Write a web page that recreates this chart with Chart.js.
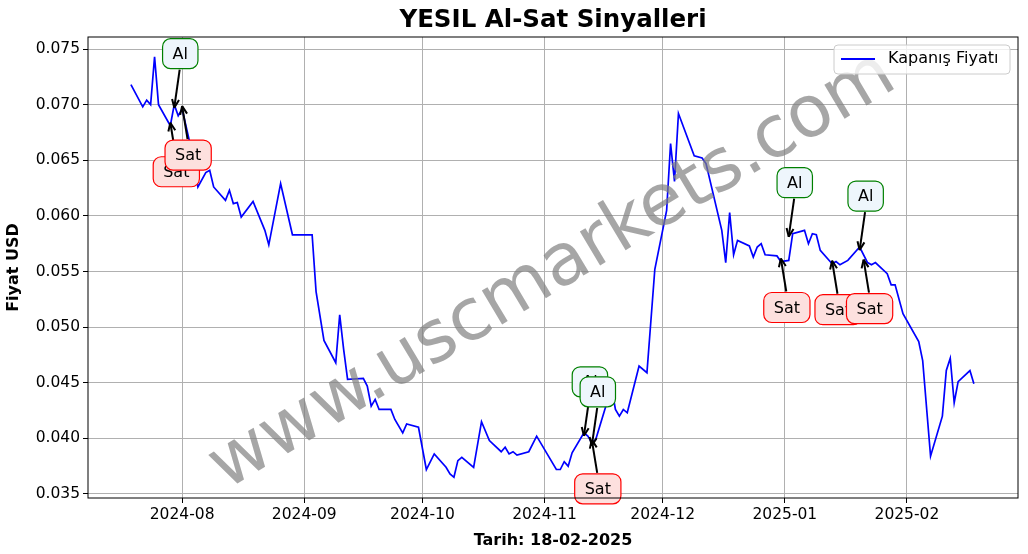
<!DOCTYPE html>
<html><head><meta charset="utf-8">
<script src="https://cdn.jsdelivr.net/npm/chart.js@4"></script>
<style>html,body{margin:0;padding:0;background:#fff}#w{width:1028px;height:554px}</style>
</head><body><div id="w"><canvas id="c"></canvas></div>
<script>
// days since 2024-08-01
const days = [-13,-10,-9,-8,-7,-6,-3,-2,-1,0,2,4,6,7,8,11,12,13,14,15,18,21,22,25,28,33,34,36,39,40,41,42,46,47,48,49,50,53,54,56,57,60,62,64,67,68,69,70,71,74,76,78,81,82,83,84,85,88,90,93,95,96,97,98,99,102,103,104,105,108,109,110,111,112,113,116,118,120,123,124,125,126,130,132,133,137,138,139,140,141,144,145,146,147,148,151,152,154,155,158,159,160,161,162,165,166,167,169,172,174,175,176,179,180,181,183,187,188,190,193,194,195,196,197,200,201];
const prices = [0.0718,0.0698,0.0704,0.0700,0.0743,0.0700,0.0681,0.0700,0.0690,0.0696,0.0665,0.0626,0.0639,0.0641,0.0626,0.0614,0.0623,0.0611,0.0612,0.0599,0.0613,0.0587,0.0574,0.0629,0.0583,0.0583,0.0532,0.0488,0.0468,0.0511,0.0480,0.0453,0.0454,0.0447,0.0429,0.0435,0.0426,0.0426,0.0417,0.0405,0.0413,0.0410,0.0372,0.0386,0.0374,0.0368,0.0365,0.0380,0.0383,0.0374,0.0415,0.0398,0.0388,0.0392,0.0386,0.0388,0.0385,0.0388,0.0402,0.0384,0.0372,0.0372,0.0379,0.0375,0.0387,0.0405,0.0402,0.0396,0.0399,0.0434,0.0446,0.0426,0.0420,0.0426,0.0423,0.0465,0.0459,0.0552,0.0605,0.0665,0.0631,0.0692,0.0654,0.0652,0.0647,0.0587,0.0558,0.0603,0.0565,0.0578,0.0573,0.0563,0.0572,0.0575,0.0565,0.0564,0.0559,0.0560,0.0584,0.0587,0.0575,0.0584,0.0583,0.0569,0.0557,0.0559,0.0556,0.0560,0.0572,0.0558,0.0556,0.0558,0.0548,0.0538,0.0538,0.0512,0.0487,0.0470,0.0384,0.0420,0.0461,0.0472,0.0432,0.0451,0.0461,0.0449];
const tickDays = [0,31,61,92,122,153,184];
const tickLabels = ['2024-08','2024-09','2024-10','2024-11','2024-12','2025-01','2025-02'];
const signalType = ['Sat','Al','Sat','Al','Al','Sat','Sat','Al','Sat','Al','Sat'];
const signalDay = [-3,-2,0,102,104,104,152,154,165,172,173];
const signalPrice = [0.0681,0.0700,0.0696,0.0405,0.0396,0.0396,0.0559,0.0584,0.0557,0.0572,0.0558];

const FONT = '"DejaVu Sans", sans-serif';
const extra = {
  id:'extra',
  afterDatasetsDraw(ch){
    const c=ch.ctx, xs=ch.scales.x, ys=ch.scales.y;
    c.save();
    c.font='16px '+FONT;
    signalType.forEach((t,i)=>{
      const tx=xs.getPixelForValue(signalDay[i]), ty=ys.getPixelForValue(signalPrice[i]);
      const al=t==='Al';
      const lx=tx+6, ly=al?ty-51:ty+46;
      const sy=al?ly+16:ly-16, ey=al?ty+3:ty-3;
      c.strokeStyle='#000';c.fillStyle='#000';c.lineWidth=2;
      c.beginPath();c.moveTo(lx-(lx-tx)*0.1,sy);c.lineTo(tx,ey);c.stroke();
      const ang=Math.atan2(ey-sy,tx-lx);
      c.beginPath();c.moveTo(tx,ey);
      c.lineTo(tx-9*Math.cos(ang-0.4),ey-9*Math.sin(ang-0.4));
      c.moveTo(tx,ey);
      c.lineTo(tx-9*Math.cos(ang+0.4),ey-9*Math.sin(ang+0.4));c.stroke();
      const w=c.measureText(t).width+20,h=30;
      c.beginPath();c.roundRect(lx-w/2,ly-h/2,w,h,8);
      c.fillStyle=al?'#eef6fc':'#fde0de';c.fill();
      c.strokeStyle=al?'green':'red';c.lineWidth=1.2;c.stroke();
      c.fillStyle='#000';c.textAlign='center';c.textBaseline='middle';
      c.fillText(t,lx,ly+1);
    });
    c.restore();
  },
  afterDraw(ch){
    const c=ch.ctx,a=ch.chartArea;
    c.save();
    c.translate(553,272);c.rotate(-31*Math.PI/180);
    c.font='72px '+FONT;c.fillStyle='rgba(128,128,128,0.7)';
    c.textAlign='center';c.textBaseline='middle';
    c.fillText('www.uscmarkets.com',0,0);
    c.restore();
    c.save();
    c.strokeStyle='#000';c.lineWidth=1;c.strokeRect(a.left,a.top,a.right-a.left,a.bottom-a.top);
    c.font='bold 24.5px '+FONT;c.fillStyle='#000';c.textAlign='center';c.textBaseline='middle';
    c.fillText('YESIL Al-Sat Sinyalleri',553,21);
    c.beginPath();c.roundRect(834,45,176,29,4);c.fillStyle='rgba(255,255,255,0.8)';c.fill();
    c.strokeStyle='#ccc';c.stroke();
    c.strokeStyle='blue';c.lineWidth=2;c.beginPath();c.moveTo(841,59);c.lineTo(875,59);c.stroke();
    c.font='16px '+FONT;c.fillStyle='#000';c.textAlign='left';c.fillText('Kapanış Fiyatı',888,59);
    c.restore();
  }
};

new Chart(document.getElementById('c'),{
  type:'line',
  data:{datasets:[{data:days.map((d,i)=>({x:d,y:prices[i]})),borderColor:'blue',borderWidth:1.7,pointRadius:0,tension:0}]},
  options:{
    responsive:true,maintainAspectRatio:false,animation:false,
    layout:{padding:{top:37,right:10,left:0,bottom:0}},
    plugins:{legend:{display:false},tooltip:{enabled:false}},
    scales:{
      x:{type:'linear',min:-23.9,max:212.2,
        afterBuildTicks(s){s.ticks=tickDays.map(v=>({value:v}));},
        afterFit(s){s.height=56;},
        ticks:{autoSkip:false,maxRotation:0,color:'#000',font:{size:15.5,family:FONT},padding:3,
          callback:(v)=>tickLabels[tickDays.indexOf(v)]},
        grid:{color:'#b0b0b0',lineWidth:1,drawTicks:true,tickLength:5,tickColor:'#000'},
        border:{display:false},
        title:{display:true,text:'Tarih: 18-02-2025',color:'#000',font:{size:16,weight:'bold',family:FONT},padding:{top:0}}
      },
      y:{min:0.03464,max:0.07608,
        afterBuildTicks(s){s.ticks=[0.035,0.04,0.045,0.05,0.055,0.06,0.065,0.07,0.075].map(v=>({value:v}));},
        afterFit(s){s.width=88;},
        ticks:{color:'#000',font:{size:15.5,family:FONT},padding:3,callback:v=>v.toFixed(3)},
        grid:{color:'#b0b0b0',lineWidth:1,tickLength:5,tickColor:'#000'},
        border:{display:false},
        title:{display:true,text:'Fiyat USD',color:'#000',font:{size:16,weight:'bold',family:FONT},padding:{bottom:0}}
      }
    }
  },
  plugins:[extra]
});
</script></body></html>
